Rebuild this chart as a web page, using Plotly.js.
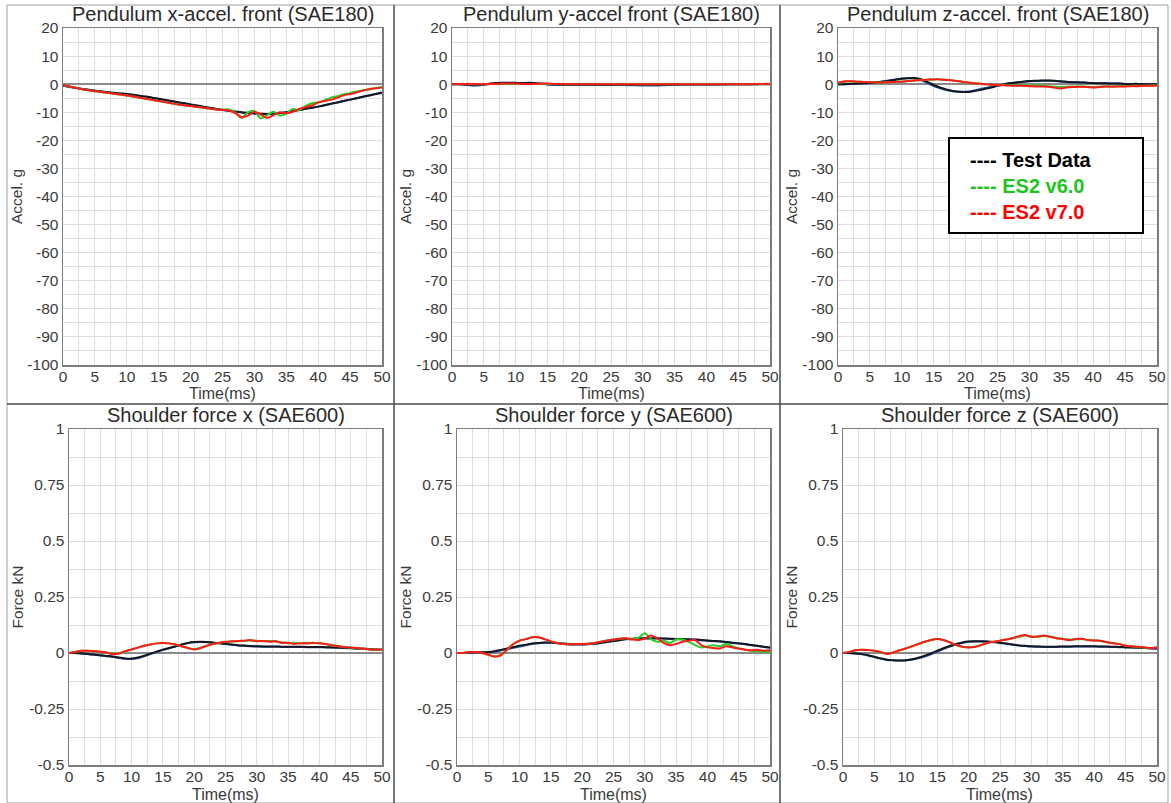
<!DOCTYPE html>
<html>
<head>
<meta charset="utf-8">
<script src="https://cdn.plot.ly/plotly-3.0.1.min.js"></script>
<style>html,body{margin:0;padding:0;background:#fff;}#chart{width:1171px;height:803px;}</style>
</head>
<body>
<div id="chart"></div>
<script>
// ---------------- data ----------------
const time = [0,1,2,3,4,5,6,7,8,9,10,11,12,13,14,15,16,17,18,19,20,21,22,23,24,25,26,27,28,29,30,31,32,33,34,35,36,37,38,39,40,41,42,43,44,45,46,47,48,49,50];

const panelTitles = ["Pendulum x-accel. front (SAE180)","Pendulum y-accel front (SAE180)","Pendulum z-accel. front (SAE180)","Shoulder force x (SAE600)","Shoulder force y (SAE600)","Shoulder force z (SAE600)"];
const seriesNames = ["Test Data","ES2 v6.0","ES2 v7.0"];
const xTitle = "Time(ms)";

const xTickVals = [0,5,10,15,20,25,30,35,40,45,50];
const xTickText = ["0","5","10","15","20","25","30","35","40","45","50"];
const accTickVals = [20,10,0,-10,-20,-30,-40,-50,-60,-70,-80,-90,-100];
const accTickText = ["20","10","0","-10","-20","-30","-40","-50","-60","-70","-80","-90","-100"];
const forceTickVals = [1,0.75,0.5,0.25,0,-0.25,-0.5];
const forceTickText = ["1","0.75","0.5","0.25","0","-0.25","-0.5"];

// Pendulum x-accel (g)
const xAccTest  = [-0.5,-0.9,-1.3,-1.7,-2.0,-2.3,-2.6,-2.9,-3.1,-3.3,-3.5,-3.8,-4.1,-4.4,-4.8,-5.2,-5.6,-6.0,-6.4,-6.8,-7.2,-7.6,-8.0,-8.4,-8.8,-9.1,-9.4,-9.7,-10.0,-10.2,-10.4,-10.5,-10.6,-10.5,-10.3,-10.0,-9.6,-9.2,-8.8,-8.4,-8.0,-7.5,-7.0,-6.5,-6.0,-5.5,-5.0,-4.5,-4.0,-3.5,-3.0];
const xAccTest2 = [-0.6,-1.0,-1.4,-1.7,-2.0,-2.3,-2.6,-2.9,-3.1,-3.4,-3.6,-3.9,-4.2,-4.5,-4.9,-5.3,-5.7,-6.1,-6.5,-6.9,-7.3,-7.7,-8.1,-8.5,-8.9,-9.2,-9.5,-9.8,-10.1,-10.3,-10.5,-10.6,-10.6,-10.5,-10.3,-10.0,-9.6,-9.2,-8.8,-8.4,-8.0,-7.5,-7.0,-6.5,-6.0,-5.5,-5.0,-4.5,-4.0,-3.5,-3.1];
const xAccV6    = [-0.4,-0.8,-1.3,-1.8,-2.2,-2.5,-2.8,-3.1,-3.4,-3.7,-4.0,-4.4,-4.8,-5.2,-5.6,-6.0,-6.4,-6.8,-7.2,-7.5,-7.8,-8.1,-8.4,-8.7,-9.0,-9.1,-9.0,-10.0,-12.0,-10.0,-9.5,-12.2,-11.0,-9.8,-11.2,-10.5,-8.8,-9.3,-7.8,-6.8,-6.5,-5.8,-4.8,-4.3,-3.6,-3.2,-2.6,-2.2,-1.8,-1.4,-1.0];
const xAccV7    = [-0.3,-0.8,-1.3,-1.8,-2.2,-2.5,-2.8,-3.1,-3.4,-3.7,-4.0,-4.4,-4.8,-5.2,-5.6,-6.0,-6.4,-6.8,-7.2,-7.5,-7.8,-8.1,-8.4,-8.7,-9.0,-9.2,-9.4,-10.3,-11.8,-11.2,-9.8,-10.8,-12.0,-11.0,-10.0,-10.4,-9.8,-8.8,-8.2,-7.6,-6.5,-6.0,-5.6,-4.8,-4.0,-3.5,-3.0,-2.3,-1.8,-1.5,-1.2];

// Pendulum y-accel (g)
const yAccTest  = [0.0,0.0,-0.1,-0.2,-0.2,-0.1,0.2,0.4,0.5,0.5,0.5,0.4,0.5,0.4,0.2,0.0,-0.1,-0.2,-0.2,-0.2,-0.2,-0.2,-0.2,-0.3,-0.3,-0.3,-0.2,-0.2,-0.3,-0.3,-0.2,-0.2,-0.3,-0.3,-0.2,-0.2,-0.1,-0.1,-0.1,-0.1,-0.1,-0.1,-0.1,0.0,0.0,0.0,0.0,0.0,0.0,0.1,0.1];
const yAccTest2 = [0.0,0.0,-0.2,-0.5,-0.5,-0.2,0.1,0.3,0.4,0.4,0.4,0.3,0.4,0.3,0.1,-0.1,-0.2,-0.3,-0.3,-0.3,-0.3,-0.3,-0.3,-0.3,-0.3,-0.3,-0.3,-0.3,-0.4,-0.4,-0.5,-0.5,-0.5,-0.4,-0.3,-0.2,-0.2,-0.1,-0.1,-0.1,-0.1,-0.1,-0.1,-0.1,0.0,0.0,0.0,0.0,0.0,0.0,0.0];
const yAccV6    = [0.1,0.1,0.1,0.0,0.0,0.0,0.1,0.1,0.1,0.1,0.1,0.1,0.1,0.1,0.1,0.1,0.1,0.0,0.0,0.0,0.0,0.0,0.0,0.0,0.0,0.0,0.0,0.0,0.0,0.0,0.0,0.0,0.0,0.0,0.0,0.0,0.0,0.0,0.0,0.0,0.0,0.0,0.0,0.0,0.0,0.0,0.0,0.0,0.0,0.0,0.0];
const yAccV7    = [0.1,0.1,0.1,0.1,0.0,0.0,0.1,0.1,0.2,0.2,0.2,0.1,0.1,0.1,0.2,0.2,0.1,0.1,0.0,0.0,0.0,0.0,0.0,0.0,0.0,0.0,0.0,0.0,0.0,0.0,0.0,0.0,0.0,0.0,0.0,0.0,0.0,0.0,0.0,0.0,0.0,0.0,0.0,0.0,0.0,0.0,0.0,0.0,0.1,0.1,0.1];

// Pendulum z-accel (g)
const zAccTest  = [0.0,0.0,0.1,0.2,0.3,0.4,0.6,0.9,1.2,1.6,1.9,2.1,2.2,1.8,0.8,-0.3,-1.2,-1.9,-2.4,-2.7,-2.8,-2.6,-2.2,-1.7,-1.2,-0.6,-0.1,0.3,0.6,0.9,1.1,1.2,1.3,1.3,1.2,1.0,0.8,0.7,0.6,0.5,0.4,0.3,0.3,0.2,0.2,0.1,0.1,0.1,0.0,0.0,0.0];
const zAccTest2 = [0.0,0.0,0.1,0.2,0.3,0.5,0.7,1.0,1.3,1.7,2.0,2.2,2.1,1.5,0.4,-0.7,-1.5,-2.1,-2.5,-2.7,-2.7,-2.4,-1.9,-1.4,-0.9,-0.4,0.0,0.4,0.7,0.9,1.0,1.1,1.2,1.2,1.1,0.9,0.8,0.7,0.6,0.5,0.4,0.3,0.3,0.2,0.2,0.1,0.1,0.1,0.0,0.0,0.0];
const zAccV6    = [0.4,0.9,1.0,0.9,0.8,0.7,0.6,0.6,0.7,0.8,0.9,1.1,1.3,1.5,1.6,1.7,1.7,1.5,1.3,1.0,0.7,0.4,0.2,0.0,-0.2,-0.3,-0.3,-0.4,-0.4,-0.5,-0.5,-0.6,-0.6,-0.7,-0.9,-1.0,-0.9,-0.8,-0.8,-0.9,-1.0,-0.9,-0.8,-0.8,-0.7,-0.7,-0.6,-0.6,-0.6,-0.5,-0.5];
const zAccV7    = [0.5,1.0,1.0,0.9,0.8,0.7,0.6,0.6,0.7,0.8,0.9,1.1,1.3,1.5,1.6,1.7,1.7,1.5,1.3,1.0,0.7,0.4,0.2,0.0,-0.2,-0.3,-0.4,-0.5,-0.6,-0.6,-0.7,-0.8,-0.8,-0.9,-1.3,-1.5,-1.1,-1.0,-0.9,-1.0,-1.2,-1.0,-0.8,-0.9,-0.8,-0.8,-0.7,-0.7,-0.6,-0.6,-0.5];

// Shoulder force x (kN)
const xForceTest  = [0.000,0.000,-0.002,-0.004,-0.007,-0.010,-0.013,-0.016,-0.020,-0.024,-0.025,-0.020,-0.012,-0.003,0.006,0.015,0.022,0.030,0.038,0.045,0.049,0.050,0.049,0.047,0.044,0.041,0.038,0.035,0.033,0.031,0.030,0.029,0.029,0.029,0.028,0.028,0.028,0.028,0.027,0.027,0.027,0.026,0.025,0.024,0.023,0.022,0.020,0.019,0.018,0.016,0.015];
const xForceTest2 = [0.000,0.000,-0.002,-0.005,-0.008,-0.011,-0.014,-0.018,-0.022,-0.026,-0.027,-0.023,-0.015,-0.005,0.004,0.013,0.021,0.029,0.037,0.044,0.048,0.049,0.048,0.046,0.043,0.040,0.037,0.034,0.032,0.030,0.029,0.028,0.028,0.028,0.027,0.027,0.027,0.027,0.026,0.026,0.026,0.025,0.024,0.023,0.022,0.021,0.019,0.018,0.017,0.015,0.014];
const xForceV6    = [0.000,0.005,0.010,0.010,0.008,0.006,0.002,-0.004,-0.001,0.008,0.016,0.024,0.032,0.038,0.043,0.045,0.043,0.038,0.030,0.022,0.017,0.022,0.032,0.040,0.046,0.049,0.051,0.053,0.054,0.056,0.055,0.052,0.054,0.051,0.048,0.044,0.046,0.042,0.046,0.044,0.045,0.040,0.036,0.031,0.027,0.024,0.021,0.019,0.017,0.013,0.015];
const xForceV7    = [0.000,0.005,0.010,0.010,0.008,0.006,0.002,-0.005,-0.002,0.008,0.016,0.024,0.032,0.038,0.043,0.045,0.043,0.038,0.030,0.022,0.016,0.022,0.032,0.040,0.046,0.050,0.052,0.054,0.055,0.058,0.052,0.054,0.050,0.053,0.045,0.046,0.040,0.044,0.042,0.046,0.043,0.040,0.034,0.030,0.026,0.025,0.022,0.020,0.016,0.015,0.016];

// Shoulder force y (kN)
const yForceTest  = [0.000,0.000,0.002,0.003,0.003,0.004,0.008,0.014,0.020,0.026,0.032,0.037,0.042,0.045,0.047,0.047,0.045,0.042,0.040,0.039,0.039,0.040,0.042,0.046,0.050,0.054,0.058,0.062,0.064,0.065,0.066,0.066,0.066,0.065,0.064,0.063,0.062,0.061,0.060,0.058,0.056,0.054,0.052,0.049,0.046,0.043,0.040,0.036,0.032,0.028,0.024];
const yForceTest2 = [0.000,0.000,0.001,0.002,0.002,0.003,0.006,0.011,0.017,0.023,0.029,0.035,0.040,0.044,0.046,0.046,0.044,0.041,0.039,0.038,0.038,0.039,0.041,0.045,0.049,0.053,0.057,0.061,0.063,0.064,0.065,0.065,0.065,0.064,0.063,0.062,0.061,0.060,0.059,0.057,0.055,0.053,0.051,0.048,0.045,0.042,0.039,0.035,0.031,0.027,0.023];
const yForceV6    = [0.000,0.000,0.004,0.004,0.000,-0.008,-0.016,-0.010,0.015,0.040,0.055,0.062,0.070,0.070,0.062,0.052,0.045,0.040,0.038,0.040,0.040,0.041,0.045,0.050,0.056,0.060,0.064,0.066,0.062,0.068,0.088,0.062,0.050,0.055,0.045,0.060,0.060,0.050,0.035,0.025,0.030,0.035,0.030,0.040,0.030,0.020,0.015,0.010,0.008,0.005,0.005];
const yForceV7    = [0.000,0.000,0.004,0.004,0.000,-0.008,-0.016,-0.010,0.015,0.040,0.055,0.062,0.070,0.070,0.062,0.052,0.045,0.040,0.038,0.040,0.040,0.041,0.045,0.050,0.056,0.060,0.064,0.066,0.060,0.058,0.064,0.078,0.065,0.045,0.035,0.040,0.050,0.055,0.058,0.035,0.025,0.022,0.020,0.030,0.025,0.020,0.015,0.012,0.015,0.010,0.012];

// Shoulder force z (kN)
const zForceTest  = [0.000,0.000,-0.002,-0.005,-0.010,-0.017,-0.024,-0.030,-0.032,-0.033,-0.032,-0.028,-0.021,-0.012,-0.002,0.010,0.021,0.031,0.040,0.047,0.051,0.052,0.052,0.051,0.049,0.046,0.042,0.038,0.034,0.032,0.030,0.029,0.028,0.028,0.028,0.029,0.029,0.030,0.030,0.030,0.030,0.029,0.029,0.028,0.027,0.026,0.025,0.024,0.023,0.021,0.020];
const zForceTest2 = [0.000,0.000,-0.002,-0.006,-0.011,-0.018,-0.025,-0.031,-0.033,-0.034,-0.033,-0.030,-0.024,-0.016,-0.006,0.006,0.018,0.029,0.038,0.045,0.050,0.051,0.051,0.050,0.048,0.045,0.041,0.037,0.033,0.031,0.029,0.028,0.027,0.027,0.027,0.028,0.028,0.029,0.029,0.029,0.029,0.028,0.028,0.027,0.026,0.025,0.024,0.023,0.022,0.020,0.019];
const zForceV6    = [0.000,0.005,0.012,0.015,0.013,0.010,0.004,-0.003,0.002,0.012,0.020,0.030,0.040,0.050,0.058,0.062,0.058,0.048,0.036,0.028,0.026,0.028,0.036,0.045,0.050,0.055,0.060,0.066,0.072,0.078,0.074,0.072,0.076,0.074,0.066,0.064,0.060,0.060,0.062,0.058,0.056,0.054,0.048,0.045,0.040,0.034,0.030,0.027,0.024,0.022,0.026];
const zForceV7    = [0.000,0.005,0.012,0.015,0.013,0.010,0.004,-0.004,0.002,0.012,0.020,0.030,0.040,0.050,0.058,0.062,0.058,0.048,0.036,0.028,0.025,0.027,0.035,0.045,0.050,0.055,0.060,0.066,0.075,0.080,0.072,0.074,0.078,0.072,0.066,0.062,0.058,0.062,0.064,0.058,0.056,0.055,0.048,0.044,0.040,0.032,0.030,0.028,0.025,0.022,0.025];

// ---------------- chart ----------------
const W = 1171, H = 803;
const px = v => v / W;
const py = v => 1 - v / H;

const panels = [
  {test: xAccTest,  test2: xAccTest2,  v6: xAccV6,  v7: xAccV7,  x0: 63,  x1: 382,  y0: 28,  y1: 365, kind: "acc"},
  {test: yAccTest,  test2: yAccTest2,  v6: yAccV6,  v7: yAccV7,  x0: 452, x1: 770,  y0: 28,  y1: 365, kind: "acc"},
  {test: zAccTest,  test2: zAccTest2,  v6: zAccV6,  v7: zAccV7,  x0: 838, x1: 1157, y0: 28,  y1: 365, kind: "acc"},
  {test: xForceTest,test2: xForceTest2,v6: xForceV6,v7: xForceV7,x0: 69,  x1: 382,  y0: 429, y1: 765, kind: "force"},
  {test: yForceTest,test2: yForceTest2,v6: yForceV6,v7: yForceV7,x0: 457, x1: 770,  y0: 429, y1: 765, kind: "force"},
  {test: zForceTest,test2: zForceTest2,v6: zForceV6,v7: zForceV7,x0: 843, x1: 1157, y0: 429, y1: 765, kind: "force"}
];

const FONT = "Liberation Sans, Arial, Helvetica, sans-serif";
const colTest = "#15171f", colTest2 = "#2f5fb8", colV6 = "#22d022", colV7 = "#ff1a1a";

const data = [];
const layout = {
  width: W, height: H,
  margin: {l: 0, r: 0, t: 0, b: 0},
  paper_bgcolor: "#ffffff",
  plot_bgcolor: "#ffffff",
  showlegend: false,
  font: {family: FONT, color: "#333"},
  shapes: [],
  annotations: []
};

panels.forEach((p, i) => {
  const n = i + 1;
  const xa = n === 1 ? "x" : "x" + n;
  const ya = n === 1 ? "y" : "y" + n;
  const lineStyle = (c) => ({color: c, width: 2, shape: "spline", smoothing: 0.8});
  data.push({x: time, y: p.test2, xaxis: xa, yaxis: ya, type: "scatter", mode: "lines", name: seriesNames[0] + " (2)", line: lineStyle(colTest2), hoverinfo: "skip"});
  data.push({x: time, y: p.test,  xaxis: xa, yaxis: ya, type: "scatter", mode: "lines", name: seriesNames[0], line: lineStyle(colTest)});
  data.push({x: time, y: p.v6,    xaxis: xa, yaxis: ya, type: "scatter", mode: "lines", name: seriesNames[1], line: lineStyle(colV6)});
  data.push({x: time, y: p.v7,    xaxis: xa, yaxis: ya, type: "scatter", mode: "lines", name: seriesNames[2], line: lineStyle(colV7)});

  const isAcc = p.kind === "acc";
  const common = {
    showline: true, mirror: true, linecolor: "#7d7d7d", linewidth: 1.5,
    showgrid: true, gridcolor: "#dedede", gridwidth: 1,
    zeroline: true, zerolinecolor: "#8a8a8a", zerolinewidth: 1.5,
    ticks: "", tickfont: {family: FONT, size: 15.5, color: "#3a3a3a"},
    fixedrange: true, automargin: false
  };
  layout["xaxis" + (n === 1 ? "" : n)] = Object.assign({}, common, {
    domain: [px(p.x0), px(p.x1)], anchor: ya, range: [0, 50],
    tickmode: "array", tickvals: xTickVals, ticktext: xTickText,
    ticklabelstandoff: -3,
    minor: {dtick: 2.5, tick0: 0, showgrid: true, gridcolor: "#dedede", gridwidth: 1},
    zeroline: false
  });
  layout["yaxis" + (n === 1 ? "" : n)] = Object.assign({}, common, {
    domain: [py(p.y1), py(p.y0)], anchor: xa,
    range: isAcc ? [-100, 20] : [-0.5, 1],
    tickmode: "array",
    tickvals: isAcc ? accTickVals : forceTickVals,
    ticktext: isAcc ? accTickText : forceTickText,
    minor: {dtick: isAcc ? 5 : 0.125, tick0: 0, showgrid: true, gridcolor: "#dedede", gridwidth: 1},
    title: {text: isAcc ? "Accel. g" : "Force kN", font: {family: FONT, size: 15.5, color: "#3a3a3a"}, standoff: 1}
  });
  // panel title
  layout.annotations.push({
    xref: "paper", yref: "paper", x: px((p.x0 + p.x1) / 2), y: py(p.y0 - 1),
    xanchor: "center", yanchor: "bottom", showarrow: false,
    text: panelTitles[i], font: {family: FONT, size: 20, color: "#2a2a2a"}
  });
  // x-axis title
  layout.annotations.push({
    xref: "paper", yref: "paper", x: px((p.x0 + p.x1) / 2), y: py(p.y1 + 29),
    xanchor: "center", yanchor: "middle", showarrow: false,
    text: xTitle, font: {family: FONT, size: 16, color: "#3a3a3a"}
  });
});

// panel separators and outer frame
layout.shapes.push({type: "rect", xref: "paper", yref: "paper", x0: px(7), x1: px(1168), y0: py(803), y1: py(5), line: {color: "#a0a0a0", width: 1}, layer: "below"});
layout.shapes.push({type: "line", xref: "paper", yref: "paper", x0: px(394), x1: px(394), y0: 0, y1: py(5), line: {color: "#4a4a4a", width: 1.5}});
layout.shapes.push({type: "line", xref: "paper", yref: "paper", x0: px(780), x1: px(780), y0: 0, y1: py(5), line: {color: "#4a4a4a", width: 1.5}});
layout.shapes.push({type: "line", xref: "paper", yref: "paper", x0: px(7), x1: px(1168), y0: py(404), y1: py(404), line: {color: "#4a4a4a", width: 1.5}});

// legend box (drawn like the original text legend)
layout.shapes.push({type: "rect", xref: "paper", yref: "paper", x0: px(949), x1: px(1143), y0: py(233), y1: py(138), line: {color: "#000", width: 2}, fillcolor: "#ffffff", layer: "above"});
layout.annotations.push({
  xref: "paper", yref: "paper", x: px(968), y: py(186), xanchor: "left", yanchor: "middle",
  align: "left", showarrow: false,
  font: {family: FONT, size: 20, color: "#000"},
  text: "<b><span style='color:#000000'>---- " + seriesNames[0] + "</span><br>" +
        "<span style='color:#1fc41f'>---- " + seriesNames[1] + "</span><br>" +
        "<span style='color:#ff0000'>---- " + seriesNames[2] + "</span></b>"
});

Plotly.newPlot("chart", data, layout, {displayModeBar: false, staticPlot: true});
</script>
</body>
</html>
